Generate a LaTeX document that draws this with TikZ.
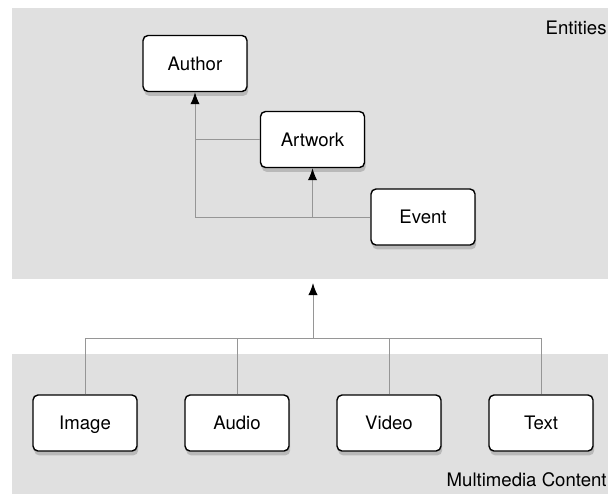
\documentclass[tikz,border=0pt]{standalone}
\usepackage{fontspec}
\setmainfont{TeX Gyre Heros}
\usetikzlibrary{positioning, arrows.meta, shadows}
\definecolor{panelgray}{HTML}{E0E0E0}
\definecolor{linkgray}{HTML}{969696}
\tikzset{entity/.style={draw,fill=white,rounded corners=2.5pt,line width=0.7pt,minimum width=52pt,minimum height=28pt,inner sep=0pt,
            text height=6.7pt,text depth=0pt,
            font=\fontsize{9.3}{11}\selectfont,drop shadow={shadow xshift=0.6pt,shadow yshift=-2.2pt,opacity=0.4}},
         panel/.style={fill=panelgray},
         link/.style={draw=linkgray,line width=0.5pt},
         tip/.style={-{Latex[length=6pt,width=4.6pt,black]}},
         caption/.style={anchor=east,inner sep=0pt,font=\fontsize{9.3}{11}\selectfont},
        }

\begin{document}
\begin{tikzpicture}[x=0.5pt,y=0.5pt]
        \useasboundingbox(0,0)rectangle(608,-494);
        \fill[panel](12,-8)rectangle(608,-279);
        \fill[panel](12,-354)rectangle(608,-494);
        \node[caption](entities)at(607,-28){Entities};
        \node[caption](multimedia)at(607,-480){Multimedia Content};

        \node[entity](author)at(195,-63.5){Author};
        \node[entity](artwork)at(312.5,-139.5){Artwork};
        \node[entity](event)at(423,-217){Event};

        \draw[link,tip](event.west)-|(author.south);
        \draw[link](artwork.west)--(author.south|-artwork.west);
        \draw[link,tip](artwork.south|-event.west)--(artwork.south);

        \node[entity](image)at(85,-423){Image};
        \node[entity](audio)at(237,-423){Audio};
        \node[entity](video)at(389,-423){Video};
        \node[entity](text)at(541,-423){Text};

        \coordinate(hub)at(313,-338);
        \coordinate(up)at(313,-283);
        \draw[link](image.north)--(image.north|-hub)--(text.north|-hub)--(text.north);
        \draw[link](audio.north)--(audio.north|-hub);
        \draw[link](video.north)--(video.north|-hub);
        \draw[link,tip](hub)--(up);
\end{tikzpicture}
\end{document}
